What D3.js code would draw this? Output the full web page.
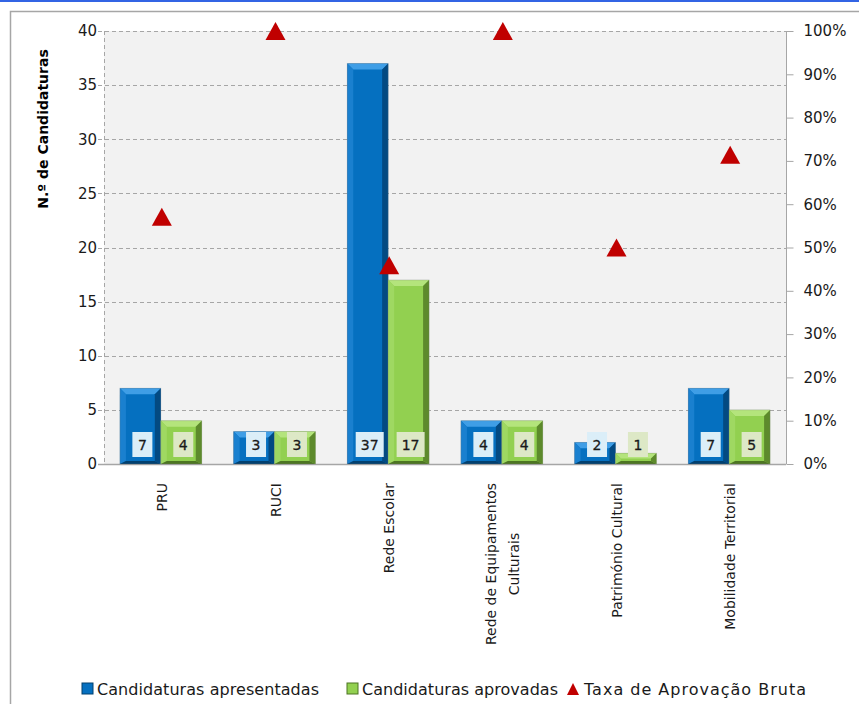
<!DOCTYPE html>
<html>
<head>
<meta charset="utf-8">
<script src="https://cdn.jsdelivr.net/npm/d3@7"></script>
<style>
  html, body { margin: 0; padding: 0; background: #ffffff; }
  svg { display: block; font-family: "DejaVu Sans", Verdana, sans-serif; }
</style>
</head>
<body>
<svg id="chart" width="859" height="704"></svg>
<script>
// ---- data ----
const categories = ["PRU", "RUCI", "Rede Escolar", "Rede de Equipamentos Culturais", "Património Cultural", "Mobilidade Territorial"];
const categoryLines = [["PRU"], ["RUCI"], ["Rede Escolar"], ["Rede de Equipamentos", "Culturais"], ["Património Cultural"], ["Mobilidade Territorial"]];
const apresentadas = [7, 3, 37, 4, 2, 7];
const aprovadas = [4, 3, 17, 4, 1, 5];
const taxaAprovacao = [0.571, 1.0, 0.459, 1.0, 0.5, 0.714];
const leftTicks = [0, 5, 10, 15, 20, 25, 30, 35, 40];
const rightTicks = [0, 0.1, 0.2, 0.3, 0.4, 0.5, 0.6, 0.7, 0.8, 0.9, 1.0];
const seriesNames = ["Candidaturas apresentadas", "Candidaturas aprovadas", "Taxa de Aprovação Bruta"];

// ---- layout ----
const svg = d3.select("#chart");
const plot = { left: 104, right: 786, top: 31, bottom: 464 };

// top blue strip and outer frame
svg.append("rect").attr("x", 0).attr("y", 0).attr("width", 859).attr("height", 2).attr("fill", "#3264e4");
svg.append("rect").attr("x", 10.5).attr("y", 11.5).attr("width", 900).attr("height", 800)
  .attr("fill", "#ffffff").attr("stroke", "#a6a6a6").attr("stroke-width", 1.5);

const x = d3.scaleBand().domain(categories).range([plot.left, plot.right]).paddingInner(0.28).paddingOuter(0.14);
const xSub = d3.scaleBand().domain(["a", "b"]).range([0, x.bandwidth()]).padding(0);
const y = d3.scaleLinear().domain([0, 40]).range([plot.bottom, plot.top]);
const yR = d3.scaleLinear().domain([0, 1]).range([plot.bottom, plot.top]);
const xc = d => x(d) + x.bandwidth() / 2;

// plot background
svg.append("rect").attr("x", plot.left).attr("y", plot.top)
  .attr("width", plot.right - plot.left).attr("height", plot.bottom - plot.top).attr("fill", "#f2f2f2");

// gridlines (dashed) with left ticks
const grid = svg.append("g");
leftTicks.filter(t => t > 0).forEach(t => {
  grid.append("line").attr("x1", plot.left - 6).attr("x2", plot.right)
    .attr("y1", Math.round(y(t)) + 0.5).attr("y2", Math.round(y(t)) + 0.5)
    .attr("stroke", "#a6a6a6").attr("stroke-dasharray", "4,3");
});
// left axis (dashed)
grid.append("line").attr("x1", plot.left + 0.5).attr("x2", plot.left + 0.5)
  .attr("y1", plot.top).attr("y2", plot.bottom).attr("stroke", "#a6a6a6").attr("stroke-dasharray", "4,3");

// left axis labels
const leftAxis = d3.axisLeft(y).tickValues(leftTicks).tickSize(0).tickPadding(7);
const gL = svg.append("g").attr("transform", `translate(${plot.left},0)`).call(leftAxis);
gL.select(".domain").remove();
gL.selectAll("text").attr("font-size", 15).attr("fill", "#1a1a1a").attr("font-family", "DejaVu Sans");

// right axis
const rightAxis = d3.axisRight(yR).tickValues(rightTicks).tickSize(7).tickPadding(10).tickFormat(d3.format(".0%"));
const gR = svg.append("g").attr("transform", `translate(${plot.right + 0.5},0)`).call(rightAxis);
gR.select(".domain").attr("stroke", "#a6a6a6").attr("d", `M0,${plot.top}V${plot.bottom}`);
gR.selectAll("line").attr("stroke", "#a6a6a6");
gR.selectAll("text").attr("font-size", 15).attr("fill", "#1a1a1a").attr("font-family", "DejaVu Sans");

// x axis line
svg.append("line").attr("x1", plot.left - 6).attr("x2", plot.right)
  .attr("y1", plot.bottom + 0.5).attr("y2", plot.bottom + 0.5).attr("stroke", "#a6a6a6").attr("stroke-width", 1.5);

// bevelled bars
const palettes = {
  a: { face: "#0570c0", top: "#3f9ee6", left: "#1a80cf", right: "#034a82", bottom: "#02406f", box: "#dbeef8" },
  b: { face: "#92d050", top: "#b4e47c", left: "#9fd862", right: "#5d8a2c", bottom: "#4d7523", box: "#dde8c6" }
};
function drawBar(g, x0, x1, yTop, yBot, pal) {
  const b = Math.min(6, (yBot - yTop) / 2, (x1 - x0) / 2);
  const bb = Math.min(3, b);
  g.append("rect").attr("x", x0).attr("y", yTop).attr("width", x1 - x0).attr("height", yBot - yTop).attr("fill", pal.face);
  const poly = (pts, fill) => g.append("polygon").attr("points", pts.map(p => p.join(",")).join(" ")).attr("fill", fill);
  poly([[x0, yTop], [x1, yTop], [x1 - b, yTop + b], [x0 + b, yTop + b]], pal.top);
  poly([[x0, yTop], [x0 + b, yTop + b], [x0 + b, yBot - bb], [x0, yBot]], pal.left);
  poly([[x1, yTop], [x1 - b, yTop + b], [x1 - b, yBot - bb], [x1, yBot]], pal.right);
  poly([[x0, yBot], [x0 + b, yBot - bb], [x1 - b, yBot - bb], [x1, yBot]], pal.bottom);
  g.append("rect").attr("x", x0).attr("y", yTop).attr("width", x1 - x0).attr("height", yBot - yTop)
    .attr("fill", "none").attr("stroke", "#7f7f7f").attr("stroke-opacity", 0.35).attr("stroke-width", 0.8);
}

const barsG = svg.append("g");
const labelsG = svg.append("g");
[["a", apresentadas], ["b", aprovadas]].forEach(([key, vals]) => {
  vals.forEach((v, i) => {
    const c = categories[i];
    const x0 = x(c) + xSub(key), x1 = x0 + xSub.bandwidth();
    drawBar(barsG, x0, x1, y(v), y(0), palettes[key]);
    const txt = String(v);
    const w = txt.length > 1 ? 28 : 20;
    const cx = (x0 + x1) / 2 + 2;
    labelsG.append("rect").attr("x", cx - w / 2).attr("y", y(0) - 32).attr("width", w).attr("height", 25)
      .attr("fill", palettes[key].box);
    labelsG.append("text").attr("x", cx).attr("y", y(0) - 14.5).attr("text-anchor", "middle")
      .attr("font-size", 14).attr("fill", "#1a1a1a").attr("stroke", "#1a1a1a").attr("stroke-width", 0.3).text(txt);
  });
});

// triangles
const tri = (cx, cy) => `M${cx - 10},${cy + 9}L${cx},${cy - 9}L${cx + 10},${cy + 9}Z`;
svg.append("g").selectAll("path").data(taxaAprovacao).join("path")
  .attr("d", (d, i) => tri(xc(categories[i]) + 1, yR(d))).attr("fill", "#c00000");

// x labels (rotated)
const xl = svg.append("g");
categoryLines.forEach((lines, i) => {
  const cx = xc(categories[i]) + 1;
  const lh = 23;
  const n = lines.length;
  const t = xl.append("text").attr("transform", `translate(${cx},${plot.bottom + 19}) rotate(-90)`)
    .attr("font-size", 14).attr("fill", "#1a1a1a");
  const measure = xl.append("text").attr("font-size", 14).attr("visibility", "hidden");
  const widths = lines.map(l => { measure.text(l); return measure.node().getComputedTextLength(); });
  measure.remove();
  const maxW = d3.max(widths);
  lines.forEach((l, j) => {
    const dy = (j - (n - 1) / 2) * lh + 5;
    t.append("tspan").attr("x", -(maxW - widths[j]) / 2).attr("y", dy).attr("text-anchor", "end").text(l);
  });
});

// y axis title
svg.append("text").attr("transform", "translate(48,129) rotate(-90)").attr("text-anchor", "middle")
  .attr("font-size", 14).attr("font-weight", "bold").attr("fill", "#000").text("N.º de Candidaturas");

// legend
const lg = svg.append("g").attr("font-size", 16).attr("fill", "#1a1a1a");
const legendX = [82, 347, 567];
const legendTextW = [222, 196, 222];
lg.append("rect").attr("x", legendX[0]).attr("y", 683).attr("width", 11).attr("height", 11).attr("fill", palettes.a.face)
  .attr("stroke", palettes.a.bottom);
lg.append("rect").attr("x", legendX[1]).attr("y", 683).attr("width", 11).attr("height", 11).attr("fill", palettes.b.face)
  .attr("stroke", palettes.b.bottom);
lg.append("path").attr("d", `M${legendX[2]},695L${legendX[2] + 6},683L${legendX[2] + 12},695Z`).attr("fill", "#c00000");
seriesNames.forEach((s, i) => {
  lg.append("text").attr("x", legendX[i] + (i === 2 ? 17 : 15)).attr("y", 695)
    .attr("textLength", legendTextW[i]).attr("lengthAdjust", "spacing").text(s);
});
</script>
</body>
</html>
